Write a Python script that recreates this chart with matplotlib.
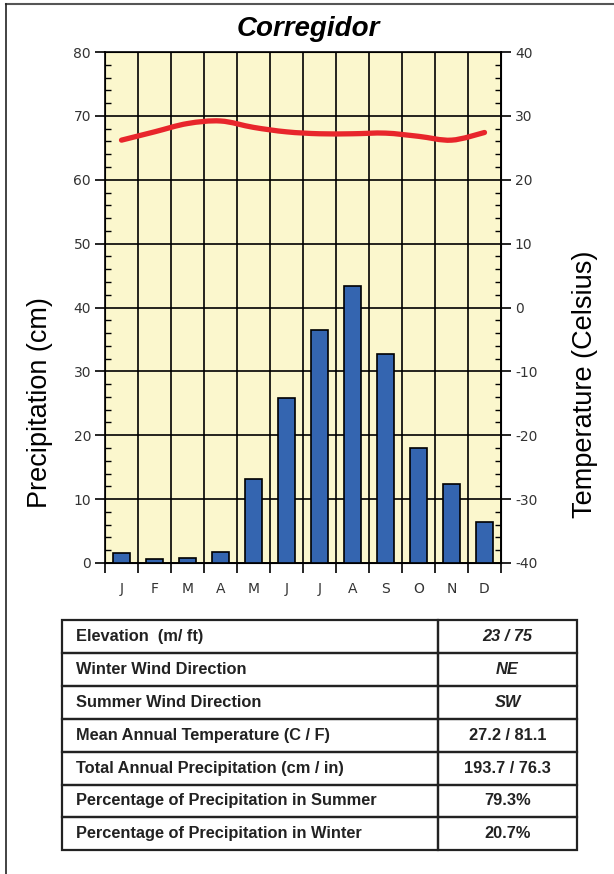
import numpy as np
import matplotlib.pyplot as plt
from matplotlib.path import Path
from matplotlib.patches import PathPatch
from matplotlib.ticker import MultipleLocator

months = ["J", "F", "M", "A", "M", "J", "J", "A", "S", "O", "N", "D"]
precip_cm = [1.5, 0.6, 0.8, 1.7, 13.1, 25.8, 36.5, 43.3, 32.7, 18.0, 12.4, 6.4]
temp_c = [26.2, 27.5, 28.8, 29.2, 28.2, 27.5, 27.2, 27.2, 27.3, 26.8, 26.2, 27.4]

row_labels = ["Elevation  (m/ ft)", "Winter Wind Direction", "Summer Wind Direction",
              "Mean Annual Temperature (C / F)", "Total Annual Precipitation (cm / in)",
              "Percentage of Precipitation in Summer", "Percentage of Precipitation in Winter"]
row_values = ["23 / 75", "NE", "SW", "27.2 / 81.1", "193.7 / 76.3", "79.3%", "20.7%"]
value_italic = [True, True, True, False, False, False, False]

W, H = 614, 874
plt.rcParams['font.family'] = ['Liberation Sans', 'DejaVu Sans']
plt.rcParams['axes.unicode_minus'] = False
fig = plt.figure(figsize=(W / 100, H / 100), dpi=100)

# page frame (top and left only)
fig.add_artist(plt.Line2D([6 / W, 1], [1 - 4 / H, 1 - 4 / H], color="#555555", lw=1.5))
fig.add_artist(plt.Line2D([6 / W, 6 / W], [0, 1 - 4 / H], color="#222222", lw=1.2))

tick_font = {"family": "DejaVu Sans", "size": 10, "color": "#333333"}

ax = fig.add_axes([105 / W, 1 - 563 / H, 396 / W, 511 / H])
ax.set_facecolor("#fbf7cd")
x = np.arange(12) + 0.5
ax.bar(x, precip_cm, width=0.52, color="#3465b0", edgecolor="black", linewidth=1.2, zorder=3)
ax.set_xlim(0, 12)
ax.set_ylim(0, 80)
ax.set_xticks(np.arange(13))
ax.set_xticks(x, minor=True)
ax.set_xticklabels([])
ax.set_xticklabels(months, minor=True, fontdict=tick_font)
ax.tick_params(axis="x", which="major", length=7, width=1.2, direction="out", color="black")
ax.tick_params(axis="x", which="minor", length=0, pad=14)
ax.yaxis.set_major_locator(MultipleLocator(10))
ax.yaxis.set_minor_locator(MultipleLocator(2))
ax.set_yticks(np.arange(0, 81, 10))
ax.set_yticklabels([str(v) for v in range(0, 81, 10)], fontdict=tick_font)
ax.tick_params(axis="y", which="major", length=7, width=1.2, direction="out", pad=3)
ax.tick_params(axis="y", which="minor", length=4, width=1, direction="in")
ax.grid(True, which="major", color="black", lw=1.2, zorder=1)
ax.set_axisbelow(True)
for s in ax.spines.values():
    s.set_linewidth(1.2)

ax2 = ax.twinx()
ax2.set_ylim(-40, 40)
ax2.yaxis.set_minor_locator(MultipleLocator(2))
ax2.set_yticks(np.arange(-40, 41, 10))
ax2.set_yticklabels([str(v) for v in range(-40, 41, 10)], fontdict=tick_font)
ax2.tick_params(axis="y", which="major", length=7, width=1.2, direction="out", pad=3)
ax2.tick_params(axis="y", which="minor", length=4, width=1, direction="in")

# smooth temperature curve (Catmull-Rom through monthly points)
pts = np.column_stack([x, temp_c])
verts = [pts[0]]
codes = [Path.MOVETO]
for i in range(len(pts) - 1):
    p0 = pts[i - 1] if i > 0 else pts[i]
    p1, p2 = pts[i], pts[i + 1]
    p3 = pts[i + 2] if i + 2 < len(pts) else pts[i + 1]
    verts += [p1 + (p2 - p0) / 6, p2 - (p3 - p1) / 6, p2]
    codes += [Path.CURVE4] * 3
ax2.add_patch(PathPatch(Path(verts, codes), fill=False, edgecolor="#e8262b", lw=3.8,
                        capstyle="round", zorder=5))

fig.text(308 / W, 1 - 29 / H, "Corregidor", ha="center", va="center", fontsize=20,
         fontweight="bold", style="italic")
fig.text(40 / W, 1 - 403 / H, "Precipitation (cm)", rotation=90, ha="center", va="center",
         fontsize=19.5)
fig.text(585 / W, 1 - 384 / H, "Temperature (Celsius)", rotation=90, ha="center", va="center",
         fontsize=19.5)

# info table
tx0, tx1, tx2 = 62, 438, 577
ty0, rh = 620, 32.9
for i, (lab, val) in enumerate(zip(row_labels, row_values)):
    top = ty0 + i * rh
    fig.add_artist(plt.Rectangle((tx0 / W, 1 - (top + rh) / H), (tx1 - tx0) / W, rh / H,
                                 fill=False, edgecolor="#222222", lw=1.6))
    fig.add_artist(plt.Rectangle((tx1 / W, 1 - (top + rh) / H), (tx2 - tx1) / W, rh / H,
                                 fill=False, edgecolor="#222222", lw=1.6))
    yc = 1 - (top + rh / 2) / H
    fig.text((tx0 + 14) / W, yc, lab, ha="left", va="center", fontsize=11.8, fontweight="bold",
             color="#222222")
    fig.text((tx1 + tx2) / 2 / W, yc, val, ha="center", va="center", fontsize=11.8,
             fontweight="bold", style="italic" if value_italic[i] else "normal", color="#222222")

fig.savefig("out.png", dpi=100)
